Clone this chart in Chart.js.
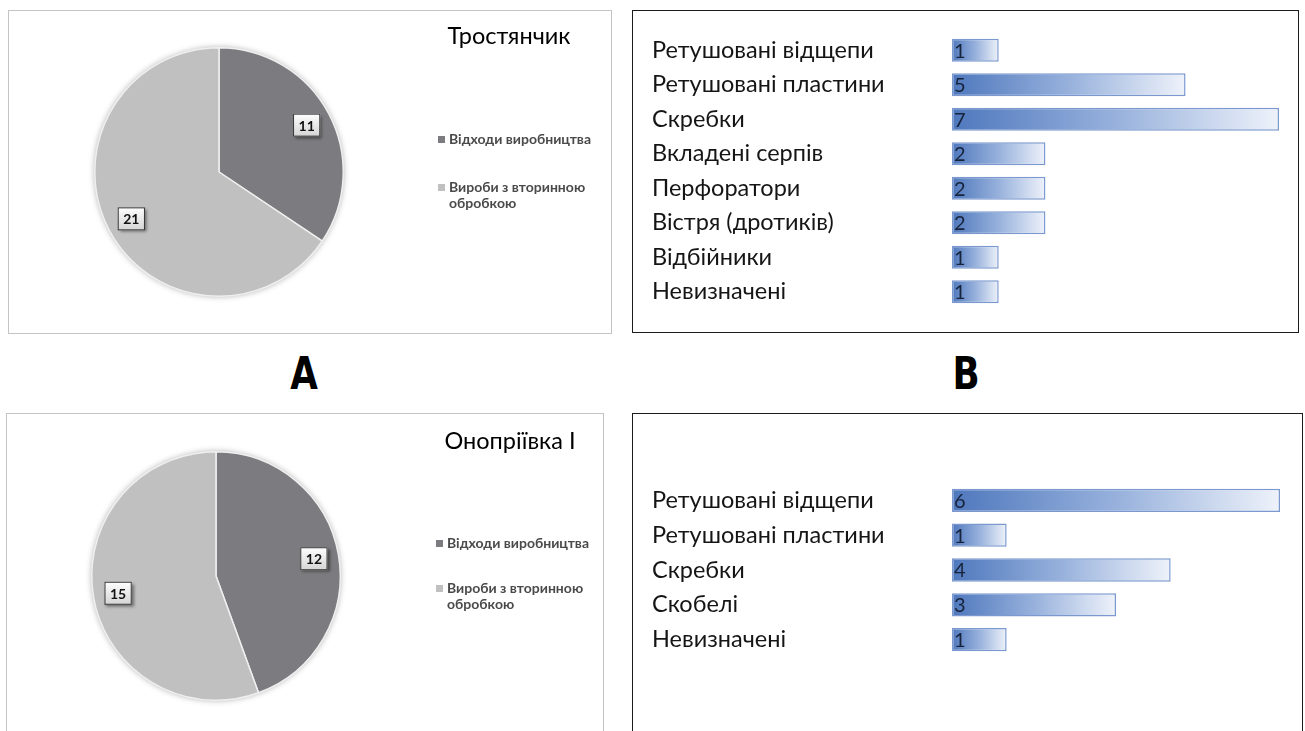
<!DOCTYPE html>
<html>
<head>
<meta charset="utf-8">
<script src="https://cdn.jsdelivr.net/npm/chart.js@4/dist/chart.umd.min.js"></script>
<style>
  html, body { margin: 0; padding: 0; background: #fff; }
  body { width: 1305px; height: 731px; position: relative; overflow: hidden; font-family: Lato, sans-serif; }
  .panel { position: absolute; box-sizing: border-box; background: #fff; }
  .panel canvas { position: absolute; left: 0; top: 0; }
  .pie { border: 1px solid #c4c4c4; }
  .bars { border: 1.5px solid #1c1c1c; }
  .tag { position: absolute; width: 100px; text-align: center; font-family: "DejaVu Sans Condensed", "DejaVu Sans", sans-serif; font-weight: bold; font-size: 44px; line-height: 1; color: #000; transform: scaleX(0.9); }
</style>
</head>
<body>
<div class="panel pie" style="left:8px;top:10px;width:604px;height:324px"><canvas id="pie-a" width="602" height="322"></canvas></div>
<div class="panel bars" style="left:632px;top:10px;width:667px;height:323px"><canvas id="bars-a" width="664" height="320"></canvas></div>
<div class="tag" style="left:254px;top:352px">A</div>
<div class="tag" style="left:916px;top:352px">B</div>
<div class="panel pie" style="left:6px;top:413px;width:598px;height:332px"><canvas id="pie-b" width="596" height="330"></canvas></div>
<div class="panel bars" style="left:632px;top:413px;width:671px;height:332px"><canvas id="bars-b" width="668" height="329"></canvas></div>
<script>
const pieLabels = ['Відходи виробництва', 'Вироби з вторинною обробкою'];
const pieColors = ['#7c7c80', '#c0c0c0'];
const trostValues = [11, 21];
const onoprValues = [12, 15];

const barLabelsA = ['Ретушовані відщепи', 'Ретушовані пластини', 'Скребки', 'Вкладені серпів',
  'Перфоратори', 'Вістря (дротиків)', 'Відбійники', 'Невизначені'];
const barValuesA = [1, 5, 7, 2, 2, 2, 1, 1];
const barLabelsB = ['Ретушовані відщепи', 'Ретушовані пластини', 'Скребки', 'Скобелі', 'Невизначені'];
const barValuesB = [6, 1, 4, 3, 1];

// title, legend and boxed value labels for the pie panels
const pieDecor = {
  id: 'pieDecor',
  beforeDatasetsDraw(chart) {
    const arc = chart.getDatasetMeta(0).data[0];
    if (!arc) return;
    const { x, y, outerRadius } = arc.getProps(['x', 'y', 'outerRadius'], true);
    const c = chart.ctx;
    c.save();
    c.shadowColor = 'rgba(0,0,0,0.35)';
    c.shadowBlur = 6;
    c.fillStyle = '#bdbdbd';
    c.beginPath();
    c.arc(x, y, outerRadius, 0, Math.PI * 2);
    c.fill();
    c.restore();
  },
  afterDraw(chart, args, o) {
    const c = chart.ctx;
    c.save();
    c.fillStyle = '#000';
    c.font = '23.5px Lato';
    c.textAlign = 'center';
    c.textBaseline = 'middle';
    c.fillText(o.title, o.titleX, o.titleY);

    // legend
    c.font = 'bold 14px Lato';
    c.textAlign = 'left';
    let ly = o.legendY;
    pieLabels.forEach((lab, i) => {
      c.fillStyle = pieColors[i];
      c.fillRect(o.legendX, ly - 3, 7, 7);
      c.fillStyle = '#4a4a4a';
      const words = lab.split(' ');
      let line = '';
      const lines = [];
      words.forEach((w) => {
        const t = line ? line + ' ' + w : w;
        if (c.measureText(t).width > 150 && line) { lines.push(line); line = w; } else line = t;
      });
      lines.push(line);
      lines.forEach((ln, k) => c.fillText(ln, o.legendX + 11, ly + k * 16));
      ly += o.legendGap;
    });

    // value boxes
    const meta = chart.getDatasetMeta(0);
    meta.data.forEach((el, i) => {
      const p = el.getProps(['x', 'y', 'startAngle', 'endAngle', 'outerRadius'], true);
      const mid = (p.startAngle + p.endAngle) / 2;
      const r = p.outerRadius * 0.8;
      const cx = p.x + Math.cos(mid) * r;
      const cy = p.y + Math.sin(mid) * r;
      const txt = String(chart.data.datasets[0].data[i]);
      c.font = 'bold 14px Lato';
      const w = c.measureText(txt).width + 11;
      const h = 23;
      c.save();
      c.shadowColor = 'rgba(0,0,0,0.45)';
      c.shadowOffsetX = 2;
      c.shadowOffsetY = 2;
      c.shadowBlur = 3;
      const g = c.createLinearGradient(0, cy - h / 2, 0, cy + h / 2);
      g.addColorStop(0, '#ffffff');
      g.addColorStop(1, '#d4d4d4');
      c.fillStyle = g;
      c.fillRect(cx - w / 2, cy - h / 2, w, h);
      c.restore();
      c.strokeStyle = '#333';
      c.lineWidth = 1;
      c.strokeRect(cx - w / 2 + 0.5, cy - h / 2 + 0.5, w - 1, h - 1);
      c.fillStyle = '#111';
      c.textAlign = 'center';
      c.fillText(txt, cx, cy + 1);
    });
    c.restore();
  },
};

function makePie(id, values, padding, decor) {
  return new Chart(document.getElementById(id), {
    type: 'pie',
    data: {
      labels: pieLabels,
      datasets: [{ data: values, backgroundColor: pieColors, borderColor: '#efefef', borderWidth: 1.5 }],
    },
    options: {
      responsive: false,
      animation: false,
      layout: { padding },
      plugins: { legend: { display: false }, tooltip: { enabled: false }, pieDecor: decor },
    },
    plugins: [pieDecor],
  });
}

function barFill(ctx) {
  const chart = ctx.chart;
  if (!chart.chartArea || ctx.type !== 'data') return '#6b8fcb';
  const xs = chart.scales.x;
  const x0 = xs.getPixelForValue(0);
  const x1 = xs.getPixelForValue(ctx.raw);
  const g = chart.ctx.createLinearGradient(x0, 0, x1, 0);
  g.addColorStop(0, '#4f78bd');
  g.addColorStop(0.5, '#97b1dc');
  g.addColorStop(1, '#eef2fa');
  return g;
}

// numbers printed at the start of every bar
const barValues = {
  id: 'barValues',
  afterDatasetsDraw(chart) {
    const c = chart.ctx;
    c.save();
    c.font = '20px Lato';
    c.fillStyle = '#17233a';
    c.textAlign = 'left';
    c.textBaseline = 'middle';
    chart.getDatasetMeta(0).data.forEach((bar, i) => {
      c.fillText(String(chart.data.datasets[0].data[i]), bar.base + 2, bar.y + 1);
    });
    c.restore();
  },
};

function makeBars(id, labels, values, max, padding) {
  return new Chart(document.getElementById(id), {
    type: 'bar',
    data: {
      labels,
      datasets: [{
        data: values,
        backgroundColor: barFill,
        borderColor: '#7b99cf',
        borderWidth: 1.5,
        borderSkipped: false,
        barPercentage: 0.67,
        categoryPercentage: 1,
      }],
    },
    options: {
      indexAxis: 'y',
      responsive: false,
      animation: false,
      layout: { padding },
      scales: {
        x: { display: false, min: 0, max },
        y: {
          grid: { display: false },
          border: { display: false },
          ticks: { crossAlign: 'far', color: '#151515', padding: 0, font: { family: 'Lato', size: 23.5 } },
          afterFit: (s) => { s.width = 300; },
        },
      },
      plugins: { legend: { display: false }, tooltip: { enabled: false } },
    },
    plugins: [barValues],
  });
}

makePie('pie-a', trostValues, { left: 85, right: 267, top: 36, bottom: 36 },
  { title: 'Тростянчик', titleX: 500, titleY: 25, legendX: 429, legendY: 128, legendGap: 48 });
makePie('pie-b', onoprValues, { left: 84, right: 262, top: 37, bottom: 43 },
  { title: 'Онопріївка I', titleX: 503, titleY: 27, legendX: 429, legendY: 129, legendGap: 45 });
makeBars('bars-a', barLabelsA, barValuesA, 7, { left: 19, right: 18, top: 22, bottom: 22 });
makeBars('bars-b', barLabelsB, barValuesB, 6, { left: 19, right: 21, top: 69, bottom: 86 });
</script>
</body>
</html>
